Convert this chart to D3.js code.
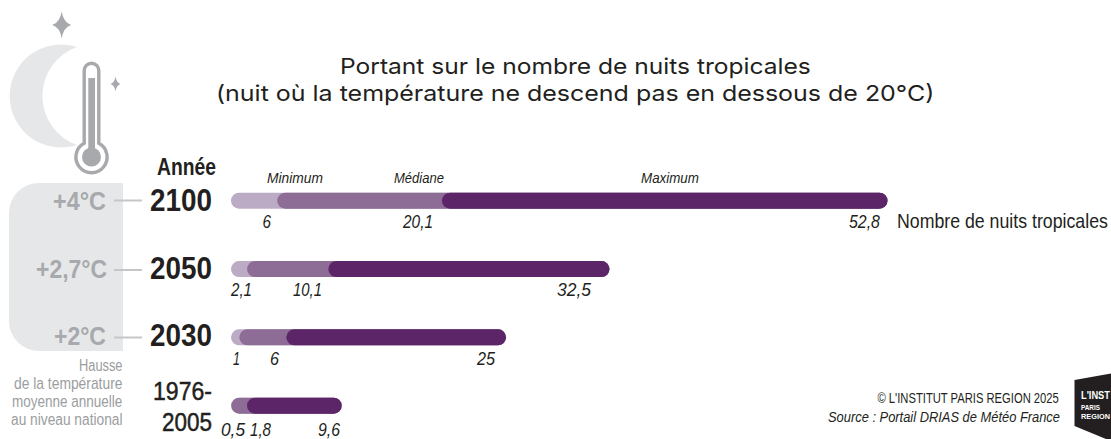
<!DOCTYPE html>
<html><head><meta charset="utf-8">
<style>html,body{margin:0;padding:0;background:#fff}svg{display:block}</style>
<script src="https://cdn.jsdelivr.net/npm/d3@7"></script></head>
<body><div id="c"></div>
<script>
// --- Data ---
const years = ["2100","2050","2030","1976-2005"];
const warming = ["+4°C","+2,7°C","+2°C"];
// Values printed on the chart
const minLabels = ["6","2,1","1","0,5"];
const medLabels = ["20,1","10,1","6","1,8"];
const maxLabels = ["52,8","32,5","25","9,6"];
// Bar lengths as drawn: the reference's bars are not proportional to their printed
// labels, so these are read off the picture, in units of the 0-52.8 axis.
const minDrawn = [3.72,1.29,0.67,0.03];
const medDrawn = [16.97,7.83,4.45,1.29];
const maxDrawn = [52.8,30.44,22.12,8.9];

const W=1111,H=439;
const ink="#231f20", grey="#a7a9ac", greyText="#9b9da0", panel="#e6e7e9";
const colLight="#bcabc5", colMid="#8d6c96", colDark="#5b2568";
const svg=d3.select("#c").append("svg").attr("width",W).attr("height",H);
const x=d3.scaleLinear().domain([0,52.8]).range([231,887.5]);
const y=d3.scalePoint().domain(years).range([200.7,405.7]);
const barH=16;
const baseFont='"Liberation Sans",Arial,sans-serif';

// text squeezed horizontally to span x0..x1, like the condensed face of the reference
function t(str,x0,x1,base,size,o={}){
  const el=svg.append("text").attr("font-size",size)
   .attr("fill",o.fill||ink).attr("font-weight",o.weight||"normal").attr("font-style",o.style||"normal")
   .attr("font-family",o.family||baseFont).text(str);
  if(o.stroke) el.attr("stroke",o.fill||ink).attr("stroke-width",o.stroke);
  const k=(x1-x0)/el.node().getComputedTextLength();
  el.attr("transform",`translate(${x0},${base}) scale(${k},1)`);
  return el;
}

// --- Icons ---
svg.append("path").attr("fill",panel).attr("d","M77,47 A51.5,51.5 0 1 0 77,145 A52,52 0 0 1 77,47 Z");
const star=(cx,cy,w,h)=>`M${cx},${cy-h} Q${cx+w*.18},${cy-h*.18} ${cx+w},${cy} Q${cx+w*.18},${cy+h*.18} ${cx},${cy+h} Q${cx-w*.18},${cy+h*.18} ${cx-w},${cy} Q${cx-w*.18},${cy-h*.18} ${cx},${cy-h} Z`;
svg.append("path").attr("fill",grey).attr("d",star(61.7,25,9.5,13.5));
svg.append("path").attr("fill",grey).attr("d",star(115.5,84,5,7.5));
svg.append("path").attr("fill","#fff").attr("stroke",grey).attr("stroke-width",3.4)
  .attr("d","M84.2,143.3 V70.5 A7.3,7.3 0 0 1 98.8,70.5 V143.3 A15.6,15.6 0 1 1 84.2,143.3 Z");
svg.append("rect").attr("x",88.3).attr("y",78).attr("width",6.7).attr("height",75).attr("fill",grey);
svg.append("circle").attr("cx",91.5).attr("cy",157).attr("r",9.5).attr("fill",grey);

// --- Warming panel ---
svg.append("path").attr("fill",panel).attr("d","M123,183 V351 H39 A30,30 0 0 1 9,321 V213 A30,30 0 0 1 39,183 Z");

// --- Title ---
const titleFont='Inter,"Liberation Sans",sans-serif';
t("Portant sur le nombre de nuits tropicales",340,811,74,22,{family:titleFont});
t("(nuit où la température ne descend pas en dessous de 20°C)",216,935,100.5,22,{family:titleFont});

// --- Bars ---
const rows=years.map((yr,i)=>({yr,min:minDrawn[i],med:medDrawn[i],max:maxDrawn[i]}));
const g=svg.selectAll("g.row").data(rows).join("g").attr("class","row");
const layer=(from,col)=>g.append("rect")
  .attr("x",d=>x(from(d))).attr("y",d=>y(d.yr)-barH/2)
  .attr("width",d=>x(d.max)-x(from(d))).attr("height",barH)
  .attr("rx",barH/2).attr("fill",col);
layer(()=>0,colLight); layer(d=>d.min,colMid); layer(d=>d.med,colDark);

// --- Headers ---
t("Année",157,216,175,23,{weight:"bold"});
t("Minimum",267,323,183,15.5,{style:"italic"});
t("Médiane",394,444,183,15.5,{style:"italic"});
t("Maximum",641,699,183,15.5,{style:"italic"});

// --- Year labels ---
t(years[0],150,212,210.5,32,{weight:"bold"});
t(years[1],150,212,279,32,{weight:"bold"});
t(years[2],150,212,346,32,{weight:"bold"});
t("1976-",153,212,400,26,{stroke:0.5});
t("2005",162,212,431,26,{stroke:0.5});

// --- Warming labels and leaders ---
t(warming[0],53,106,210,26,{weight:"bold",fill:grey});
t(warming[1],36,107,278,26,{weight:"bold",fill:grey});
t(warming[2],54,106,344.5,26,{weight:"bold",fill:grey});
[200.5,270,337.5].forEach(v=>svg.append("line").attr("x1",114).attr("x2",142).attr("y1",v).attr("y2",v).attr("stroke","#c4c6c8").attr("stroke-width",2));

// --- Value labels (start, end, baseline) ---
const it={style:"italic"};
t(minLabels[0],262.5,271,228,18,it); t(medLabels[0],403,433,228,18,it); t(maxLabels[0],849,880,228,18,it);
t(minLabels[1],231,252,296,18,it); t(medLabels[1],293,322,296,18,it); t(maxLabels[1],557,591,296,18,it);
t(minLabels[2],233,240,365,18,it); t(medLabels[2],270,279,365,18,it); t(maxLabels[2],477,495,365,18,it);
t(minLabels[3],221,245,436,18,it); t(medLabels[3],250,271,436,18,it); t(maxLabels[3],318,340,436,18,it);

t("Nombre de nuits tropicales",897,1108,228,20.5);

// --- Notes ---
const gt={fill:greyText};
t("Hausse",79,122.5,371,16,gt);
t("de la température",14,122.5,389,16,gt);
t("moyenne annuelle",12,122.5,407,16,gt);
t("au niveau national",11,122.5,425,16,gt);
t("© L'INSTITUT PARIS REGION 2025",877.5,1059,403,15.5);
t("Source : Portail DRIAS de Météo France",828,1060,422,15.5,it);

// --- Logo ---
svg.append("path").attr("fill",ink).attr("d","M1074.5,380 L1111,373.5 V439 H1106 L1074.5,426 Z");
t("L'INST",1081,1110,398.5,10.5,{fill:"#fff",weight:"bold"});
t("PARIS",1081,1100,409.5,8,{fill:"#fff",weight:"bold"});
t("REGION",1081,1110,418.5,8,{fill:"#fff",weight:"bold"});
</script></body></html>
